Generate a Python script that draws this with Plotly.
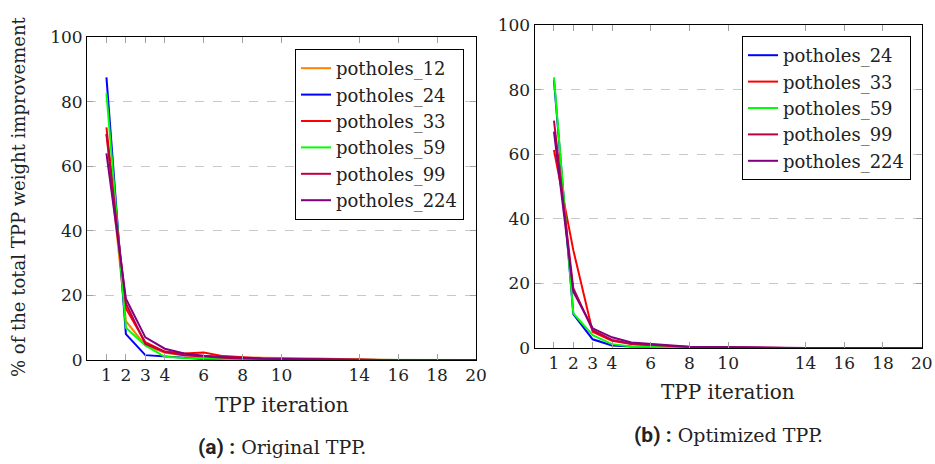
import plotly.graph_objects as go

iterations = list(range(1, 21))

# (a) Original TPP
orig_12 = [70, 12, 4.5, 2.2, 1.5, 1.2, 1.0, 0.8, 0.7, 0.7, 0.6, 0.5, 0.3, 0.1, 0, 0, 0, 0, 0, 0]
orig_24 = [87.5, 8, 1.5, 1.1, 0.5, 0.3, 0.2, 0.1, 0.1, 0.1, 0, 0, 0, 0, 0, 0, 0, 0, 0, 0]
orig_33 = [72, 16, 5.5, 2.6, 2.0, 2.3, 1.2, 0.8, 0.5, 0.4, 0.3, 0.2, 0.1, 0, 0, 0, 0, 0, 0, 0]
orig_59 = [82.5, 10, 4.5, 1.0, 0.6, 0.4, 0.3, 0.2, 0.1, 0.1, 0, 0, 0, 0, 0, 0, 0, 0, 0, 0]
orig_99 = [70, 17.5, 5, 2.5, 1.5, 1.0, 0.7, 0.5, 0.4, 0.3, 0.2, 0.1, 0, 0, 0, 0, 0, 0, 0, 0]
orig_224 = [64, 19, 7, 3.5, 2.0, 1.3, 0.9, 0.6, 0.4, 0.3, 0.2, 0.1, 0, 0, 0, 0, 0, 0, 0, 0]

# (b) Optimized TPP
opt_24 = [83, 10.5, 2.7, 0.8, 0.5, 0.3, 0.2, 0.2, 0.2, 0.3, 0.1, 0, 0, 0, 0, 0, 0, 0, 0, 0]
opt_33 = [61.3, 30.3, 5, 2.2, 1.2, 0.8, 0.5, 0.3, 0.2, 0.1, 0, 0, 0, 0, 0, 0, 0, 0, 0, 0]
opt_59 = [83.8, 10.7, 4, 1.2, 0.5, 0.3, 0.2, 0.1, 0.1, 0, 0, 0, 0, 0, 0, 0, 0, 0, 0, 0]
opt_99 = [70.4, 18.5, 5.5, 2.5, 1.3, 0.9, 0.5, 0.3, 0.2, 0.1, 0, 0, 0, 0, 0, 0, 0, 0, 0, 0]
opt_224 = [67, 17.4, 6.1, 3.3, 1.7, 1.3, 0.7, 0.4, 0.3, 0.2, 0.1, 0, 0, 0, 0, 0, 0, 0, 0, 0]

x_ticks = [1, 2, 3, 4, 6, 8, 10, 14, 16, 18, 20]
y_ticks = [0, 20, 40, 60, 80, 100]

colors = {
    "potholes_12": "#ff8000",
    "potholes_24": "#0000ff",
    "potholes_33": "#ff0000",
    "potholes_59": "#00ff00",
    "potholes_99": "#bf0040",
    "potholes_224": "#800080",
}

SERIF = "DejaVu Serif"

left_series = [("potholes_12", orig_12), ("potholes_24", orig_24), ("potholes_33", orig_33),
               ("potholes_59", orig_59), ("potholes_99", orig_99), ("potholes_224", orig_224)]
right_series = [("potholes_24", opt_24), ("potholes_33", opt_33), ("potholes_59", opt_59),
                ("potholes_99", opt_99), ("potholes_224", opt_224)]

fig = go.Figure()
for name, vals in left_series:
    fig.add_trace(go.Scatter(x=iterations, y=vals, mode="lines", name=name,
                             line=dict(color=colors[name], width=2),
                             xaxis="x", yaxis="y", legend="legend"))
for name, vals in right_series:
    fig.add_trace(go.Scatter(x=iterations, y=vals, mode="lines", name=name,
                             line=dict(color=colors[name], width=2),
                             xaxis="x2", yaxis="y2", legend="legend2"))

W, H = 935, 464
def fx(px):
    return px / W
def fy(py):
    return 1 - py / H

axis_common = dict(
    showline=True, linecolor="black", linewidth=1, mirror="allticks",
    ticks="inside", ticklen=6, tickcolor="#a0a0a0", tickwidth=1,
    tickfont=dict(family=SERIF, size=17, color="#222"),
    zeroline=False, fixedrange=True, automargin=False,
)
xcommon = dict(axis_common, range=[0, 20], tickvals=x_ticks, showgrid=False)
ycommon = dict(axis_common, range=[0, 100], tickvals=y_ticks, showgrid=True,
               gridcolor="#c8c8c8", griddash="dash", gridwidth=1)

legend_common = dict(
    bgcolor="white", bordercolor="black", borderwidth=1,
    font=dict(family=SERIF, size=18, color="#222"),
    itemwidth=30, tracegroupgap=0, xanchor="right", yanchor="top",
)

fig.update_layout(
    width=W, height=H, margin=dict(l=0, r=0, t=0, b=0, autoexpand=False),
    paper_bgcolor="white", plot_bgcolor="white",
    font=dict(family=SERIF, color="#222"),
    xaxis=dict(xcommon, domain=[fx(87), fx(476)], anchor="y"),
    yaxis=dict(ycommon, domain=[fy(360), fy(37)], anchor="x"),
    xaxis2=dict(xcommon, domain=[fx(534.6), fx(921.7)], anchor="y2"),
    yaxis2=dict(ycommon, domain=[fy(348), fy(25)], anchor="x2"),
    legend=dict(legend_common, x=fx(464), y=fy(49)),
    legend2=dict(legend_common, x=fx(911), y=fy(36)),
    showlegend=True,
)

annots = [
    dict(text="% of the total TPP weight improvement", x=fx(19), y=fy(197), textangle=-90,
         font=dict(family=SERIF, size=18, color="#222")),
    dict(text="TPP iteration", x=fx(282), y=fy(405), font=dict(family=SERIF, size=20, color="#222")),
    dict(text="TPP iteration", x=fx(728), y=fy(392), font=dict(family=SERIF, size=20, color="#222")),
    dict(text="<span style=\"font-family:'Roboto';font-weight:bold;font-size:21px\">(a) :</span> Original TPP.",
         x=fx(282), y=fy(447), font=dict(family=SERIF, size=19, color="#222")),
    dict(text="<span style=\"font-family:'Roboto';font-weight:bold;font-size:21px\">(b) :</span> Optimized TPP.",
         x=fx(728), y=fy(435), font=dict(family=SERIF, size=19, color="#222")),
]
for a in annots:
    fig.add_annotation(xref="paper", yref="paper", showarrow=False,
                       xanchor="center", yanchor="middle", **a)

fig.write_html("out.html")
